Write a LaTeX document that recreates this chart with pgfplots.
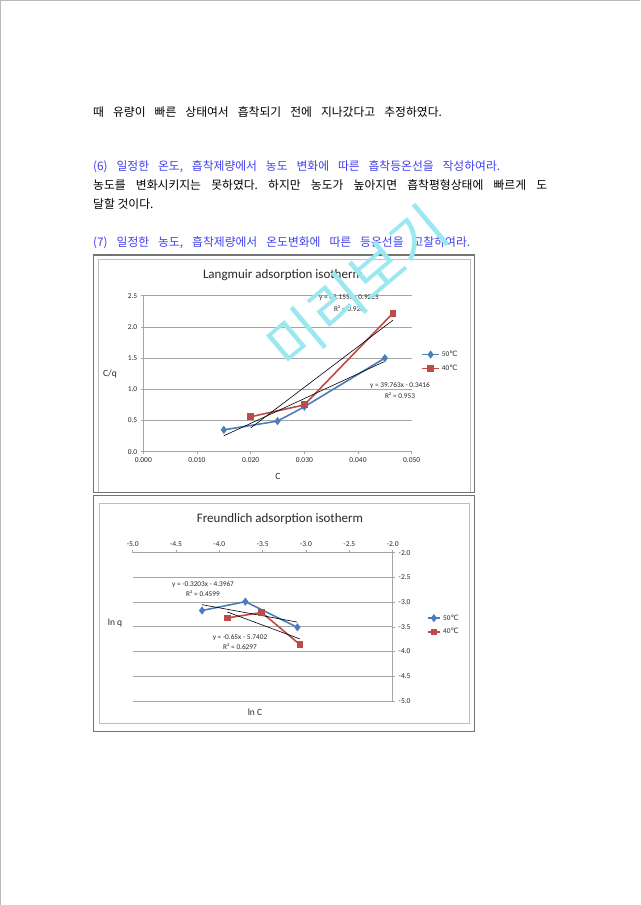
\documentclass[border=0pt]{standalone}
\usepackage{pgfplots}
\pgfplotsset{compat=1.18}
\usepackage{fontspec}
\setmainfont{Carlito}
\newfontfamily\kr{Noto Sans CJK KR}
\newfontfamily\djv{DejaVu Sans}
\definecolor{sblue}{RGB}{74,126,187}
\definecolor{sred}{RGB}{190,75,72}
\definecolor{qblue}{RGB}{64,64,240}
\definecolor{wm}{RGB}{155,232,240}
\definecolor{gridc}{RGB}{165,165,165}
\definecolor{txt}{RGB}{40,40,40}
\pgfplotsset{
  excel/.style={
    scale only axis, anchor=south west, clip=false,
    scaled ticks=false,
    ymajorgrids, grid style={gridc, line width=0.7pt},
    axis line style={gridc, line width=0.7pt},
    tick align=outside, major tick length=2.5pt, tick style={gridc, line width=0.6pt},
    ticklabel style={font=\fontsize{7.5}{9}\selectfont, text=txt},
    legend cell align=left,
    legend style={draw=none, fill=none, font=\fontsize{7.3}{9}\selectfont, text=txt, row sep=3pt, inner sep=0pt},
  },
  s50/.style={sblue, line width=1.6pt, mark=diamond*, mark size=2.8pt, mark options={solid, fill=sblue}},
  s40/.style={sred, line width=1.6pt, mark=square*, mark size=2.6pt, mark options={solid, fill=sred}},
  trend/.style={black, line width=0.6pt, forget plot},
}
\begin{document}
\frenchspacing
\begin{tikzpicture}[x=1pt,y=1pt]
\fill[white] (0,0) rectangle (640,905);
\useasboundingbox (0,0) rectangle (640,905);
\draw[gray!55, line width=1pt] (0.5,0) -- (0.5,904.5) -- (640,904.5);

% ---- text ----
\begin{scope}[every node/.style={anchor=base west, inner sep=0pt, font=\kr\fontsize{11.8}{14}\selectfont\frenchspacing}]
\node at (93,905-117) {\makebox[348.7pt][s]{때 유량이 빠른 상태여서 흡착되기 전에 지나갔다고 추정하였다.}};
\node[text=qblue] at (93,905-170.5) {\makebox[407pt][s]{(6) 일정한 온도, 흡착제량에서 농도 변화에 따른 흡착등온선을 작성하여라.}};
\node at (93,905-190) {\makebox[454pt][s]{농도를 변화시키지는 못하였다. 하지만 농도가 높아지면 흡착평형상태에 빠르게 도}};
\node at (93,905-208.5) {달할 것이다.};
\node[text=qblue] at (93,905-247) {\makebox[377pt][s]{(7) 일정한 농도, 흡착제량에서 온도변화에 따른 등온선을 고찰하여라.}};
\end{scope}

% ---- frames ----
\draw[black!25, line width=0.8pt] (98,905-259.5) rectangle (470,905-492);
\draw[black!55, line width=1.3pt] (93.3,905-255) rectangle (474.3,905-492.3);
\draw[black!25, line width=0.8pt] (99,905-503) rectangle (469,905-723);
\draw[black!55, line width=1.3pt] (93.3,905-495.7) rectangle (474.3,905-731.7);

% ---- Langmuir ----
\begin{axis}[excel, at={(143.3pt,453.3pt)}, width=268.4pt, height=156pt,
  xmin=0, xmax=0.05, ymin=0, ymax=2.5,
  axis x line*=bottom, axis y line*=left,
  xtick={0,0.01,0.02,0.03,0.04,0.05}, xticklabels={0.000,0.010,0.020,0.030,0.040,0.050},
  ytick={0,0.5,1,1.5,2,2.5}, yticklabels={0.0,0.5,1.0,1.5,2.0,2.5},
  legend style={at={(1.035,0.578)}, anchor=west},
  legend image code/.code={\draw[mark repeat=2,mark phase=2] plot coordinates {(0cm,0cm) (0.3cm,0cm) (0.6cm,0cm)};},
]
\addplot[s50] coordinates {(0.015,0.35) (0.025,0.49) (0.030,0.72) (0.045,1.50)};
\addplot[s40] coordinates {(0.020,0.56) (0.030,0.75) (0.0465,2.22)};
\addplot[trend] coordinates {(0.015,0.2548) (0.045,1.4477)};
\addplot[trend] coordinates {(0.020,0.3805) (0.0465,2.107)};
\legend{50{\djv ℃}, 40{\djv ℃}}
\end{axis}
\node[text=txt, font=\fontsize{13}{15}\selectfont] at (283,905-275) {Langmuir adsorption isotherm};
\node[text=txt, font=\fontsize{9.5}{11}\selectfont] at (110,905-374) {C/q};
\node[text=txt, font=\fontsize{9.5}{11}\selectfont] at (278,905-476) {C};
\begin{scope}[every node/.style={text=txt, font=\fontsize{7.3}{9}\selectfont, inner sep=0pt}]
\node at (349,905-298) {y = 65.155x - 0.9225};
\node at (349,905-309) {R² = 0.926};
\node at (400,905-386) {y = 39.763x - 0.3416};
\node at (400,905-396) {R² = 0.953};
\end{scope}

% ---- Freundlich ----
\begin{axis}[excel, at={(132.7pt,204pt)}, width=260pt, height=148.3pt,
  xmin=-5, xmax=-2, ymin=-5, ymax=-2,
  axis x line*=top, axis y line*=right,
  xtick={-5,-4.5,-4,-3.5,-3,-2.5,-2}, xticklabels={-5.0,-4.5,-4.0,-3.5,-3.0,-2.5,-2.0},
  ytick={-5,-4.5,-4,-3.5,-3,-2.5,-2}, yticklabels={-5.0,-4.5,-4.0,-3.5,-3.0,-2.5,-2.0},
  legend style={at={(1.13,0.512)}, anchor=west},
  legend image code/.code={\draw[mark repeat=2,mark phase=2] plot coordinates {(0cm,0cm) (0.225cm,0cm) (0.45cm,0cm)};},
]
\addplot[s50] coordinates {(-4.20,-3.17) (-3.70,-2.99) (-3.10,-3.51)};
\addplot[s40] coordinates {(-3.91,-3.32) (-3.51,-3.21) (-3.07,-3.86)};
\addplot[trend] coordinates {(-4.20,-3.0514) (-3.10,-3.4038)};
\addplot[trend] coordinates {(-3.91,-3.1987) (-3.07,-3.7447)};
\legend{50{\djv ℃}, 40{\djv ℃}}
\end{axis}
\node[text=txt, font=\fontsize{13}{15}\selectfont] at (280,905-519) {Freundlich adsorption isotherm};
\node[text=txt, font=\fontsize{9.5}{11}\selectfont] at (115,905-623) {ln q};
\node[text=txt, font=\fontsize{9.5}{11}\selectfont] at (255,905-712) {ln C};
\begin{scope}[every node/.style={text=txt, font=\fontsize{7.3}{9}\selectfont, inner sep=0pt}]
\node at (203,905-585) {y = -0.3203x - 4.3967};
\node at (203,905-594) {R² = 0.4599};
\node at (240,905-638) {y = -0.65x - 5.7402};
\node at (240,905-647) {R² = 0.6297};
\end{scope}

% ---- watermark ----
\node[rotate=40, text=wm, font=\kr\fontsize{58}{62}\selectfont, inner sep=0pt] at (357,905-287) {미리보기};
\end{tikzpicture}
\end{document}
